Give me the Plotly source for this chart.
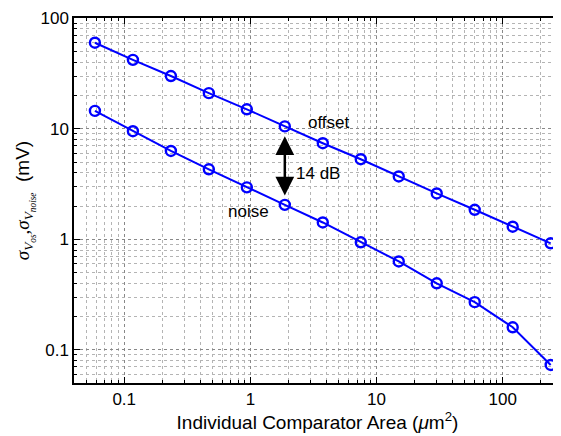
import plotly.graph_objects as go
import numpy as np

area = [0.05859, 0.1172, 0.2344, 0.46875, 0.9375, 1.875, 3.75, 7.5, 15, 30, 60, 120, 240]
offset_mv = [60, 42, 30, 21, 15, 10.5, 7.4, 5.3, 3.7, 2.6, 1.85, 1.3, 0.92]
noise_mv = [14.5, 9.5, 6.3, 4.3, 2.95, 2.05, 1.42, 0.94, 0.63, 0.40, 0.27, 0.16, 0.073]

x_ticks = [0.1, 1, 10, 100]
x_ticklabels = ["0.1", "1", "10", "100"]
y_ticks = [0.1, 1, 10, 100]
y_ticklabels = ["0.1", "1", "10", "100"]

minor_x = [m * 10.0 ** e for e in range(-2, 3) for m in range(2, 10)]
minor_y = [m * 10.0 ** e for e in range(-2, 2) for m in range(2, 10)]

blue = "#0000ff"
FONT = "Liberation Sans, Arial, Helvetica, sans-serif"
SERIF = "Liberation Serif, DejaVu Serif, serif"

fig = go.Figure()
for ys in (offset_mv, noise_mv):
    fig.add_trace(go.Scatter(
        x=area, y=ys, mode="lines+markers",
        line=dict(color=blue, width=2),
        marker=dict(symbol="circle-open", size=10, color=blue, line=dict(width=2.4, color=blue)),
        showlegend=False, cliponaxis=False,
    ))

# double arrow between offset and noise at x = 1.875
arrow_x = area[5]
fig.add_annotation(x=np.log10(arrow_x), y=np.log10(offset_mv[5] * 0.815), ax=np.log10(arrow_x), ay=np.log10(noise_mv[5] * 1.18),
                   xref="x", yref="y", axref="x", ayref="y", showarrow=True,
                   arrowhead=2, arrowside="end+start", arrowsize=1.5, arrowwidth=2.5, arrowcolor="black", text="")
fig.add_annotation(x=np.log10(arrow_x), y=np.log10(3.95), xref="x", yref="y", text="14 dB", showarrow=False,
                   xanchor="left", xshift=9, font=dict(size=17, color="black", family=FONT))
fig.add_annotation(x=np.log10(area[5]), y=np.log10(offset_mv[5]), xref="x", yref="y", text="offset", showarrow=False,
                   xanchor="left", xshift=21, yshift=4, font=dict(size=17, color="black", family=FONT))
fig.add_annotation(x=np.log10(area[5]), y=np.log10(noise_mv[5]), xref="x", yref="y", text="noise", showarrow=False,
                   xanchor="right", xshift=-14, yshift=-7, font=dict(size=17, color="black", family=FONT))

axis_common = dict(
    type="log", showline=True, linecolor="black", linewidth=1.5, mirror="ticks",
    ticks="inside", ticklen=6, tickcolor="black",
    showgrid=True, gridcolor="#888888", griddash="dot", gridwidth=1,
    tickfont=dict(size=17, color="black", family=FONT),
    zeroline=False, automargin=False, ticklabeloverflow="allow",
)

ytitle = (f'<span style="font-family:{SERIF}"><i>σ</i><sub><i>V</i><sub><i>os</i></sub></sub>'
          f',<i>σ</i><sub><i>V</i><sub><i>noise</i></sub></sub></span>  (mV)')

fig.update_xaxes(**axis_common, range=[-1.398, 2.462], tickmode="array", tickvals=x_ticks, ticktext=x_ticklabels,
                 minor=dict(tickmode="array", tickvals=minor_x, ticks="inside", ticklen=3, tickcolor="black",
                            showgrid=True, gridcolor="#b4b4b4", griddash="dot", gridwidth=1),
                 title=dict(text="Individual Comparator Area (<i>μ</i>m<sup>2</sup>)",
                            font=dict(size=19, color="black", family=FONT), standoff=8))
fig.update_yaxes(**axis_common, range=[-1.3, 2.002], tickmode="array", tickvals=y_ticks, ticktext=y_ticklabels,
                 minor=dict(tickmode="array", tickvals=minor_y, ticks="inside", ticklen=3, tickcolor="black",
                            showgrid=True, gridcolor="#b4b4b4", griddash="dot", gridwidth=1),
                 title=dict(text=ytitle, font=dict(size=19, color="black", family=FONT), standoff=6))

# page body adds an 8px offset, so the figure is sized to fit the 561x436 window
fig.update_layout(
    width=553, height=428,
    margin=dict(l=66, r=0, t=10, b=53),
    plot_bgcolor="white", paper_bgcolor="white",
    font=dict(family=FONT, color="black"),
)

fig.write_html("out.html")
